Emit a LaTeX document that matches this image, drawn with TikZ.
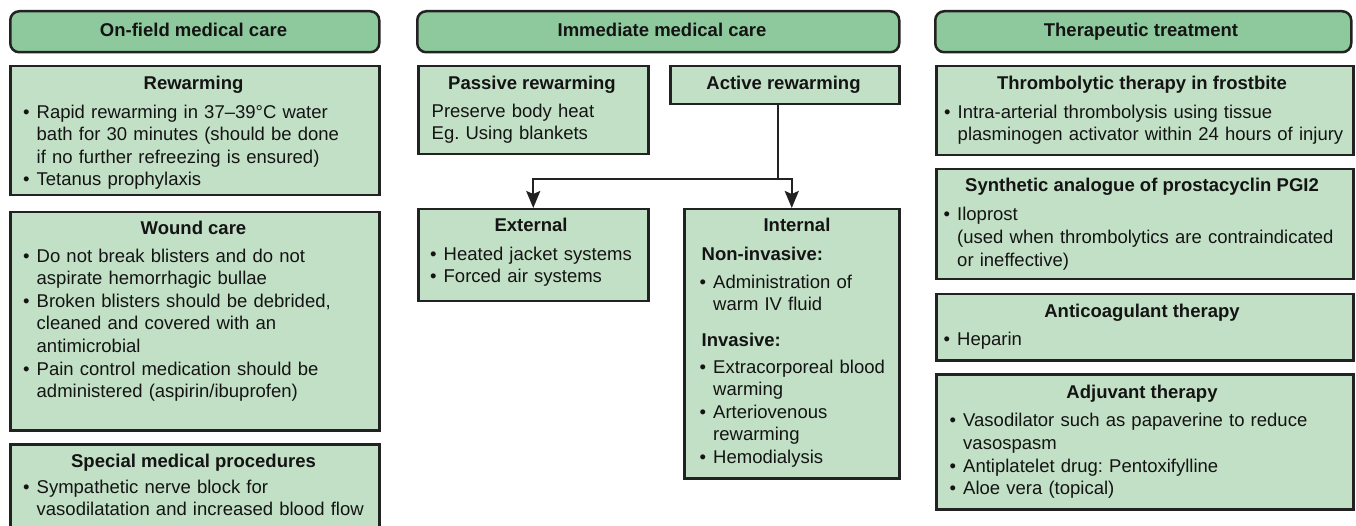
\documentclass[tikz,border=0pt]{standalone}
\usepackage{fontspec}
\setmainfont{Liberation Sans}
\usetikzlibrary{arrows.meta}
\definecolor{hdrgreen}{RGB}{141,201,156}
\definecolor{boxgreen}{RGB}{194,224,197}
\definecolor{edgecol}{RGB}{34,34,34}
\definecolor{txtcol}{RGB}{20,20,20}
\newlength\bw
\setlength\bw{13.5pt}
\newcommand\bul{\makebox[\bw][l]{•}}
\newcommand\ind{\hspace*{\bw}}
\newcommand\st{\rule{0pt}{14pt}}
\frenchspacing
\begin{document}
\begin{tikzpicture}[x=1pt,y=-1pt,
  every node/.style={font=\fontsize{18.5}{22.6}\selectfont\frenchspacing, text=txtcol},
  hdrbox/.style={draw=edgecol, fill=hdrgreen, line width=2.5pt, rounded corners=9pt, inner sep=0pt, anchor=north west},
  panel/.style={draw=edgecol, fill=boxgreen, line width=2.5pt, inner sep=0pt, anchor=north west},
  ttl/.style={anchor=base, inner sep=0pt, font=\fontsize{18.5}{22.6}\selectfont\bfseries},
  bodytext/.style={anchor=north west, inner sep=0pt, text width=420pt, align=left},
  conn/.style={draw=edgecol, line width=2.3pt},
  arrowhd/.style={-{Stealth[length=17pt,width=14pt,inset=3pt]}}
]
\useasboundingbox (0,0) rectangle (1356,526);

% ---------- Left column ----------
\node[hdrbox, minimum width=369pt, minimum height=41pt] (h1) at (9,10) {};
\node[ttl] (h1t) at (193.5,37) {On-field medical care};

\node[panel, minimum width=369pt, minimum height=129pt] (rw) at (9,65) {};
\node[ttl] (rwt) at (193.5,90) {Rewarming};
\node[bodytext] (rwb) at (23,104) {\st\bul Rapid rewarming in 37–39°C water\\\ind bath for 30 minutes (should be done\\\ind if no further refreezing is ensured)\\\bul Tetanus prophylaxis};

\node[panel, minimum width=369pt, minimum height=218pt] (wc) at (9,211) {};
\node[ttl] (wct) at (193.5,235) {Wound care};
\node[bodytext] (wcb) at (23,248) {\st\bul Do not break blisters and do not\\\ind aspirate hemorrhagic bullae\\\bul Broken blisters should be debrided,\\\ind cleaned and covered with an\\\ind antimicrobial\\\bul Pain control medication should be\\\ind administered (aspirin/ibuprofen)};

\node[panel, minimum width=369pt, minimum height=110pt] (sp) at (9,443) {};
\node[ttl] (spt) at (193.5,467) {Special medical procedures};
\node[bodytext] (spb) at (23,479) {\st\bul Sympathetic nerve block for\\\ind vasodilatation and increased blood flow};

% ---------- Middle column ----------
\node[hdrbox, minimum width=482pt, minimum height=41pt] (h2) at (416,10) {};
\node[ttl] (h2t) at (662,37) {Immediate medical care};

\node[panel, minimum width=230pt, minimum height=88pt] (pas) at (417,65) {};
\node[ttl] (past) at (532,90) {Passive rewarming};
\node[bodytext] (pasb) at (431.5,103) {\st Preserve body heat\\Eg. Using blankets};

\node[panel, minimum width=229pt, minimum height=38pt] (act) at (669,65) {};
\node[ttl] (actt) at (783.5,90) {Active rewarming};

\node[panel, minimum width=230pt, minimum height=92pt] (ext) at (417,208) {};
\node[ttl] (extt) at (531,232) {External};
\node[bodytext] (extb) at (430,246) {\st\bul Heated jacket systems\\\bul Forced air systems};

\node[panel, minimum width=215pt, minimum height=269pt] (int) at (683,208) {};
\node[ttl] (intt) at (797,232) {Internal};
\node[bodytext] (intb) at (699.5,246) {\st\hspace*{2pt}\textbf{Non-invasive:}\\[5.4pt]\bul Administration of\\\ind warm IV fluid\\[12.8pt]\hspace*{2pt}\textbf{Invasive:}\\[4.4pt]\bul Extracorporeal blood\\\ind warming\\\bul Arteriovenous\\\ind rewarming\\\bul Hemodialysis};

\coordinate (split) at (778,179);
\draw[conn] (act.south -| split) -- (split);
\draw[conn,arrowhd] (split) -| (ext.north);
\draw[conn,arrowhd] (split) -| (int.north);

% ---------- Right column ----------
\node[hdrbox, minimum width=416pt, minimum height=41pt] (h3) at (934,10) {};
\node[ttl] (h3t) at (1141,37) {Therapeutic treatment};

\node[panel, minimum width=417pt, minimum height=89pt] (thr) at (935,65) {};
\node[ttl] (thrt) at (1142,90) {Thrombolytic therapy in frostbite};
\node[bodytext] (thrb) at (944,104) {\st\bul Intra-arterial thrombolysis using tissue\\\ind plasminogen activator within 24 hours of injury};

\node[panel, minimum width=417pt, minimum height=110pt] (syn) at (935,168) {};
\node[ttl] (synt) at (1142,192) {Synthetic analogue of prostacyclin PGI2};
\node[bodytext] (synb) at (943.5,206.7) {\st\bul Iloprost\\\ind (used when thrombolytics are contraindicated\\\ind or ineffective)};

\node[panel, minimum width=417pt, minimum height=66pt] (ant) at (935,293) {};
\node[ttl] (antt) at (1142,317) {Anticoagulant therapy};
\node[bodytext] (antb) at (943.5,331) {\st\bul Heparin};

\node[panel, minimum width=417pt, minimum height=135pt] (adj) at (935,373) {};
\node[ttl] (adjt) at (1142,398) {Adjuvant therapy};
\node[bodytext] (adjb) at (949.5,412.7) {\st\bul Vasodilator such as papaverine to reduce\\\ind vasospasm\\\bul Antiplatelet drug: Pentoxifylline\\\bul Aloe vera (topical)};
\end{tikzpicture}
\end{document}
